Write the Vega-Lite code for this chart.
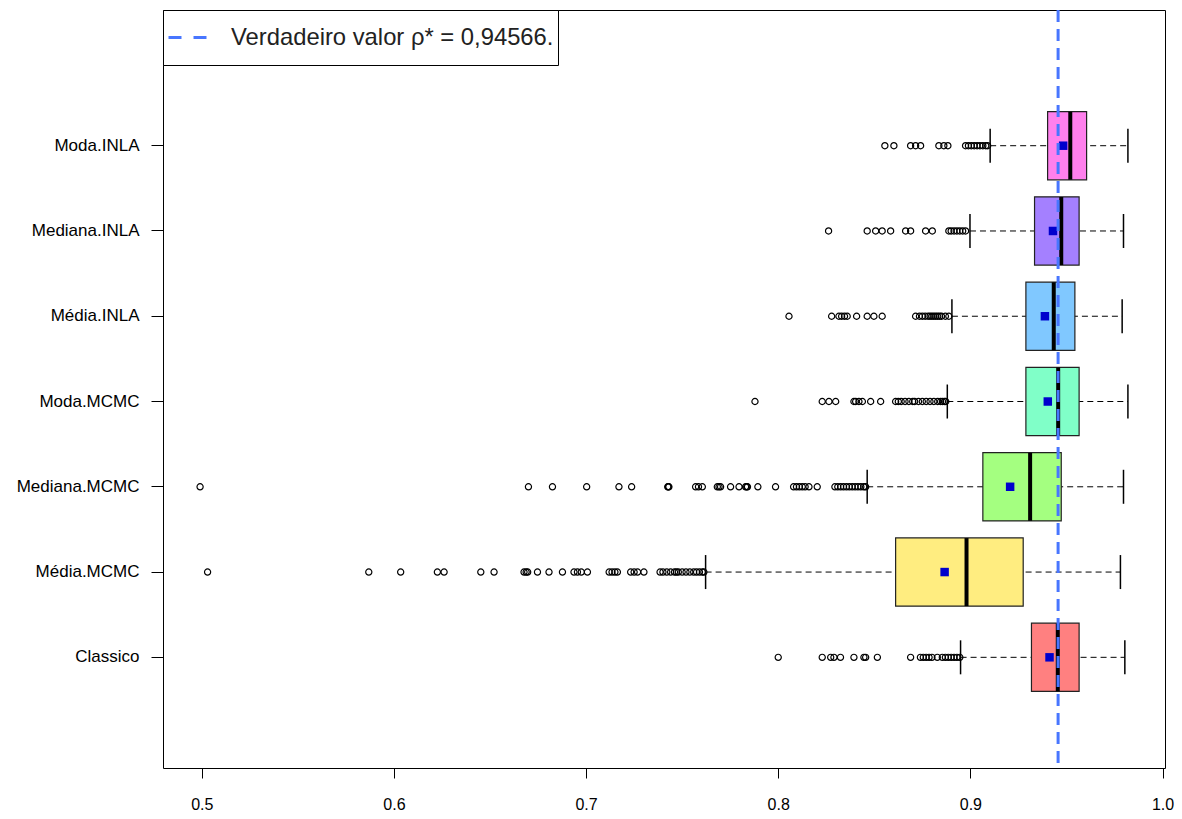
{
  "$schema": "https://vega.github.io/schema/vega-lite/v6.json",
  "width": 1002,
  "height": 758,
  "autosize": {"type": "none"},
  "padding": {"left": 163, "top": 10, "right": 17, "bottom": 51},
  "background": "white",
  "config": {
    "view": {"stroke": "black", "strokeWidth": 1},
    "font": "Liberation Sans"
  },
  "datasets": {
    "stats": [
      {"name": "Moda.INLA", "lo": 0.9103, "q1": 0.9402, "med": 0.9520, "q3": 0.9605, "hi": 0.9820, "mean": 0.9483},
      {"name": "Mediana.INLA", "lo": 0.8998, "q1": 0.9334, "med": 0.9473, "q3": 0.9566, "hi": 0.9797, "mean": 0.9430},
      {"name": "Média.INLA", "lo": 0.8904, "q1": 0.9289, "med": 0.9434, "q3": 0.9544, "hi": 0.9790, "mean": 0.9388},
      {"name": "Moda.MCMC", "lo": 0.8880, "q1": 0.9289, "med": 0.9457, "q3": 0.9566, "hi": 0.9820, "mean": 0.9403},
      {"name": "Mediana.MCMC", "lo": 0.8463, "q1": 0.9065, "med": 0.9311, "q3": 0.9473, "hi": 0.9797, "mean": 0.9207},
      {"name": "Média.MCMC", "lo": 0.7622, "q1": 0.8611, "med": 0.8980, "q3": 0.9275, "hi": 0.9781, "mean": 0.8866},
      {"name": "Classico", "lo": 0.8949, "q1": 0.9318, "med": 0.9455, "q3": 0.9566, "hi": 0.9804, "mean": 0.9412}
    ],
    "outliers": [
      {"name": "Moda.INLA", "v": 0.8555}, {"name": "Moda.INLA", "v": 0.8602}, {"name": "Moda.INLA", "v": 0.8689},
      {"name": "Moda.INLA", "v": 0.8715}, {"name": "Moda.INLA", "v": 0.8741}, {"name": "Moda.INLA", "v": 0.8836},
      {"name": "Moda.INLA", "v": 0.8862}, {"name": "Moda.INLA", "v": 0.8883}, {"name": "Moda.INLA", "v": 0.8975},
      {"name": "Moda.INLA", "v": 0.8990}, {"name": "Moda.INLA", "v": 0.9005}, {"name": "Moda.INLA", "v": 0.9020},
      {"name": "Moda.INLA", "v": 0.9035}, {"name": "Moda.INLA", "v": 0.9050}, {"name": "Moda.INLA", "v": 0.9065},
      {"name": "Moda.INLA", "v": 0.9080}, {"name": "Moda.INLA", "v": 0.9090},

      {"name": "Mediana.INLA", "v": 0.8262}, {"name": "Mediana.INLA", "v": 0.8463}, {"name": "Mediana.INLA", "v": 0.8507},
      {"name": "Mediana.INLA", "v": 0.8541}, {"name": "Mediana.INLA", "v": 0.8585}, {"name": "Mediana.INLA", "v": 0.8663},
      {"name": "Mediana.INLA", "v": 0.8689}, {"name": "Mediana.INLA", "v": 0.8767}, {"name": "Mediana.INLA", "v": 0.8802},
      {"name": "Mediana.INLA", "v": 0.8888}, {"name": "Mediana.INLA", "v": 0.8900}, {"name": "Mediana.INLA", "v": 0.8915},
      {"name": "Mediana.INLA", "v": 0.8930}, {"name": "Mediana.INLA", "v": 0.8945}, {"name": "Mediana.INLA", "v": 0.8960},
      {"name": "Mediana.INLA", "v": 0.8975},

      {"name": "Média.INLA", "v": 0.8056}, {"name": "Média.INLA", "v": 0.8278}, {"name": "Média.INLA", "v": 0.8316},
      {"name": "Média.INLA", "v": 0.8330}, {"name": "Média.INLA", "v": 0.8345}, {"name": "Média.INLA", "v": 0.8359},
      {"name": "Média.INLA", "v": 0.8408}, {"name": "Média.INLA", "v": 0.8463}, {"name": "Média.INLA", "v": 0.8498},
      {"name": "Média.INLA", "v": 0.8541}, {"name": "Média.INLA", "v": 0.8715}, {"name": "Média.INLA", "v": 0.8735},
      {"name": "Média.INLA", "v": 0.8750}, {"name": "Média.INLA", "v": 0.8765}, {"name": "Média.INLA", "v": 0.8780},
      {"name": "Média.INLA", "v": 0.8790}, {"name": "Média.INLA", "v": 0.8800}, {"name": "Média.INLA", "v": 0.8810},
      {"name": "Média.INLA", "v": 0.8820}, {"name": "Média.INLA", "v": 0.8830}, {"name": "Média.INLA", "v": 0.8840},
      {"name": "Média.INLA", "v": 0.8850}, {"name": "Média.INLA", "v": 0.8870}, {"name": "Média.INLA", "v": 0.8888},

      {"name": "Moda.MCMC", "v": 0.7879}, {"name": "Moda.MCMC", "v": 0.8229}, {"name": "Moda.MCMC", "v": 0.8264},
      {"name": "Moda.MCMC", "v": 0.8299}, {"name": "Moda.MCMC", "v": 0.8394}, {"name": "Moda.MCMC", "v": 0.8403},
      {"name": "Moda.MCMC", "v": 0.8420}, {"name": "Moda.MCMC", "v": 0.8438}, {"name": "Moda.MCMC", "v": 0.8481},
      {"name": "Moda.MCMC", "v": 0.8533}, {"name": "Moda.MCMC", "v": 0.8611}, {"name": "Moda.MCMC", "v": 0.8625},
      {"name": "Moda.MCMC", "v": 0.8640}, {"name": "Moda.MCMC", "v": 0.8660}, {"name": "Moda.MCMC", "v": 0.8680},
      {"name": "Moda.MCMC", "v": 0.8700}, {"name": "Moda.MCMC", "v": 0.8710}, {"name": "Moda.MCMC", "v": 0.8730},
      {"name": "Moda.MCMC", "v": 0.8750}, {"name": "Moda.MCMC", "v": 0.8770}, {"name": "Moda.MCMC", "v": 0.8790},
      {"name": "Moda.MCMC", "v": 0.8810}, {"name": "Moda.MCMC", "v": 0.8830}, {"name": "Moda.MCMC", "v": 0.8845},
      {"name": "Moda.MCMC", "v": 0.8855}, {"name": "Moda.MCMC", "v": 0.8865}, {"name": "Moda.MCMC", "v": 0.8872},

      {"name": "Mediana.MCMC", "v": 0.4991}, {"name": "Mediana.MCMC", "v": 0.6700}, {"name": "Mediana.MCMC", "v": 0.6825},
      {"name": "Mediana.MCMC", "v": 0.7003}, {"name": "Mediana.MCMC", "v": 0.7171}, {"name": "Mediana.MCMC", "v": 0.7237},
      {"name": "Mediana.MCMC", "v": 0.7425}, {"name": "Mediana.MCMC", "v": 0.7428}, {"name": "Mediana.MCMC", "v": 0.7431},
      {"name": "Mediana.MCMC", "v": 0.7570}, {"name": "Mediana.MCMC", "v": 0.7585}, {"name": "Mediana.MCMC", "v": 0.7605},
      {"name": "Mediana.MCMC", "v": 0.7683}, {"name": "Mediana.MCMC", "v": 0.7692}, {"name": "Mediana.MCMC", "v": 0.7700},
      {"name": "Mediana.MCMC", "v": 0.7752}, {"name": "Mediana.MCMC", "v": 0.7796}, {"name": "Mediana.MCMC", "v": 0.7830},
      {"name": "Mediana.MCMC", "v": 0.7836}, {"name": "Mediana.MCMC", "v": 0.7840}, {"name": "Mediana.MCMC", "v": 0.7894},
      {"name": "Mediana.MCMC", "v": 0.7986}, {"name": "Mediana.MCMC", "v": 0.8080}, {"name": "Mediana.MCMC", "v": 0.8095},
      {"name": "Mediana.MCMC", "v": 0.8110}, {"name": "Mediana.MCMC", "v": 0.8125}, {"name": "Mediana.MCMC", "v": 0.8140},
      {"name": "Mediana.MCMC", "v": 0.8160}, {"name": "Mediana.MCMC", "v": 0.8203}, {"name": "Mediana.MCMC", "v": 0.8295},
      {"name": "Mediana.MCMC", "v": 0.8310}, {"name": "Mediana.MCMC", "v": 0.8325}, {"name": "Mediana.MCMC", "v": 0.8340},
      {"name": "Mediana.MCMC", "v": 0.8355}, {"name": "Mediana.MCMC", "v": 0.8370}, {"name": "Mediana.MCMC", "v": 0.8385},
      {"name": "Mediana.MCMC", "v": 0.8400}, {"name": "Mediana.MCMC", "v": 0.8415}, {"name": "Mediana.MCMC", "v": 0.8430},
      {"name": "Mediana.MCMC", "v": 0.8445}, {"name": "Mediana.MCMC", "v": 0.8455},

      {"name": "Média.MCMC", "v": 0.5030}, {"name": "Média.MCMC", "v": 0.5869}, {"name": "Média.MCMC", "v": 0.6035},
      {"name": "Média.MCMC", "v": 0.6226}, {"name": "Média.MCMC", "v": 0.6261}, {"name": "Média.MCMC", "v": 0.6452},
      {"name": "Média.MCMC", "v": 0.6521}, {"name": "Média.MCMC", "v": 0.6677}, {"name": "Média.MCMC", "v": 0.6688},
      {"name": "Média.MCMC", "v": 0.6696}, {"name": "Média.MCMC", "v": 0.6747}, {"name": "Média.MCMC", "v": 0.6807},
      {"name": "Média.MCMC", "v": 0.6877}, {"name": "Média.MCMC", "v": 0.6937}, {"name": "Média.MCMC", "v": 0.6955},
      {"name": "Média.MCMC", "v": 0.6975}, {"name": "Média.MCMC", "v": 0.7007}, {"name": "Média.MCMC", "v": 0.7120},
      {"name": "Média.MCMC", "v": 0.7135}, {"name": "Média.MCMC", "v": 0.7150}, {"name": "Média.MCMC", "v": 0.7163},
      {"name": "Média.MCMC", "v": 0.7232}, {"name": "Média.MCMC", "v": 0.7250}, {"name": "Média.MCMC", "v": 0.7268},
      {"name": "Média.MCMC", "v": 0.7301}, {"name": "Média.MCMC", "v": 0.7385}, {"name": "Média.MCMC", "v": 0.7400},
      {"name": "Média.MCMC", "v": 0.7420}, {"name": "Média.MCMC", "v": 0.7440}, {"name": "Média.MCMC", "v": 0.7460},
      {"name": "Média.MCMC", "v": 0.7470}, {"name": "Média.MCMC", "v": 0.7480}, {"name": "Média.MCMC", "v": 0.7500},
      {"name": "Média.MCMC", "v": 0.7520}, {"name": "Média.MCMC", "v": 0.7540}, {"name": "Média.MCMC", "v": 0.7560},
      {"name": "Média.MCMC", "v": 0.7575}, {"name": "Média.MCMC", "v": 0.7590}, {"name": "Média.MCMC", "v": 0.7605},
      {"name": "Média.MCMC", "v": 0.7613},

      {"name": "Classico", "v": 0.8000}, {"name": "Classico", "v": 0.8229}, {"name": "Classico", "v": 0.8273},
      {"name": "Classico", "v": 0.8290}, {"name": "Classico", "v": 0.8324}, {"name": "Classico", "v": 0.8394},
      {"name": "Classico", "v": 0.8446}, {"name": "Classico", "v": 0.8455}, {"name": "Classico", "v": 0.8516},
      {"name": "Classico", "v": 0.8689}, {"name": "Classico", "v": 0.8740}, {"name": "Classico", "v": 0.8755},
      {"name": "Classico", "v": 0.8770}, {"name": "Classico", "v": 0.8785}, {"name": "Classico", "v": 0.8800},
      {"name": "Classico", "v": 0.8828}, {"name": "Classico", "v": 0.8854}, {"name": "Classico", "v": 0.8870},
      {"name": "Classico", "v": 0.8885}, {"name": "Classico", "v": 0.8900}, {"name": "Classico", "v": 0.8915},
      {"name": "Classico", "v": 0.8930}, {"name": "Classico", "v": 0.8945}
    ],
    "truth": [{"v": 0.94566, "label": "Verdadeiro valor ρ* = 0,94566."}]
  },
  "encoding": {
    "y": {
      "field": "name",
      "type": "nominal",
      "sort": ["Moda.INLA", "Mediana.INLA", "Média.INLA", "Moda.MCMC", "Mediana.MCMC", "Média.MCMC", "Classico"],
      "scale": {
        "domain": ["Moda.INLA", "Mediana.INLA", "Média.INLA", "Moda.MCMC", "Mediana.MCMC", "Média.MCMC", "Classico"],
        "range": [93.07, 689.96],
        "paddingInner": 0.2,
        "paddingOuter": 0.1,
        "round": false
      },
      "axis": {
        "title": null,
        "domain": false,
        "tickSize": 12,
        "tickColor": "black",
        "labelPadding": 12,
        "labelFontSize": 17,
        "labelColor": "black",
        "labelFont": "Liberation Sans"
      }
    }
  },
  "layer": [
    {
      "data": {"name": "stats"},
      "mark": {"type": "rule", "color": "black", "strokeWidth": 1, "strokeDash": [6, 4]},
      "encoding": {
        "x": {
          "field": "lo",
          "type": "quantitative",
          "scale": {"domain": [0.4798, 1.0013], "nice": false, "zero": false},
          "axis": {
            "title": null,
            "values": [0.5, 0.6, 0.7, 0.8, 0.9, 1.0],
            "format": ".1f",
            "grid": false,
            "domain": false,
            "tickSize": 10,
            "tickColor": "black",
            "labelPadding": 18,
            "labelFontSize": 16,
            "labelColor": "black",
            "labelFont": "Liberation Sans Narrow, Liberation Sans",
            "labelFlush": false
          }
        },
        "x2": {"field": "hi"}
      }
    },
    {
      "data": {"name": "stats"},
      "mark": {"type": "tick", "color": "black", "thickness": 1.5, "size": 34, "opacity": 1},
      "encoding": {"x": {"field": "lo", "type": "quantitative"}}
    },
    {
      "data": {"name": "stats"},
      "mark": {"type": "tick", "color": "black", "thickness": 1.5, "size": 34, "opacity": 1},
      "encoding": {"x": {"field": "hi", "type": "quantitative"}}
    },
    {
      "data": {"name": "stats"},
      "mark": {"type": "bar", "stroke": "#222222", "strokeWidth": 1.2, "fillOpacity": 1, "opacity": 1},
      "encoding": {
        "x": {"field": "q1", "type": "quantitative"},
        "x2": {"field": "q3"},
        "fill": {
          "field": "name",
          "type": "nominal",
          "scale": {
            "domain": ["Classico", "Média.MCMC", "Mediana.MCMC", "Moda.MCMC", "Média.INLA", "Mediana.INLA", "Moda.INLA"],
            "range": ["#FF8080", "#FFED80", "#A4FF80", "#80FFC8", "#80C8FF", "#A480FF", "#FF80ED"]
          },
          "legend": null
        }
      }
    },
    {
      "data": {"name": "stats"},
      "mark": {"type": "tick", "color": "black", "thickness": 4, "size": 68, "opacity": 1},
      "encoding": {"x": {"field": "med", "type": "quantitative"}}
    },
    {
      "data": {"name": "stats"},
      "mark": {"type": "point", "shape": "square", "filled": true, "color": "#0000CD", "size": 72, "opacity": 1},
      "encoding": {"x": {"field": "mean", "type": "quantitative"}}
    },
    {
      "data": {"name": "outliers"},
      "mark": {"type": "point", "shape": "circle", "filled": false, "stroke": "black", "strokeWidth": 1.2, "size": 38, "opacity": 1},
      "encoding": {"x": {"field": "v", "type": "quantitative"}}
    },
    {
      "data": {"name": "truth"},
      "mark": {"type": "rule", "strokeWidth": 3, "strokeDash": [12, 7], "opacity": 1},
      "encoding": {
        "x": {"field": "v", "type": "quantitative"},
        "y": null,
        "color": {
          "field": "label",
          "type": "nominal",
          "scale": {"range": ["#4876FF"]},
          "legend": {
            "title": null,
            "orient": "top-left",
            "offset": 0,
            "padding": 4,
            "clipHeight": 47,
            "strokeColor": "black",
            "fillColor": "white",
            "symbolType": "stroke",
            "symbolSize": 1444,
            "symbolStrokeWidth": 3,
            "symbolDash": [13, 12],
            "symbolOpacity": 1,
            "labelFontSize": 23.8,
            "labelFont": "Liberation Sans",
            "labelColor": "#222222",
            "labelOffset": 23,
            "labelLimit": 500
          }
        }
      }
    }
  ]
}
